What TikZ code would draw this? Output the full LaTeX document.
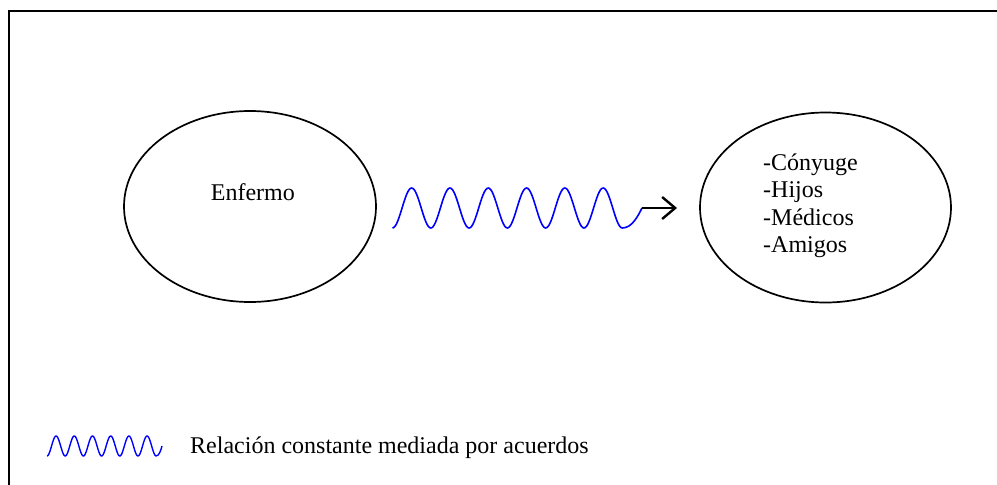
\documentclass[tikz,border=0pt]{standalone}
\usepackage{fontspec}
\setmainfont{Liberation Serif}
\usetikzlibrary{shapes.geometric,arrows.meta}
\begin{document}
\begin{tikzpicture}[x=1pt,y=-1pt,
  frame/.style={line width=2pt,draw=black},
  oval/.style={ellipse,draw=black,line width=1.7pt,inner sep=0pt},
  lbl/.style={font=\fontsize{24}{27}\selectfont,inner sep=0pt,anchor=base west},
  wave/.style={draw=blue,line width=1.6pt,line join=round},
  arr/.style={draw=black,line width=2.4pt,-{Straight Barb[length=13pt,width=22pt]}}]
\useasboundingbox (0,0) rectangle (997,485);
\fill[white] (0,0) rectangle (997,485);
% frame (top and left edges visible)
\coordinate (fr) at (1000,11);
\coordinate (fc) at (9,11);
\coordinate (fb) at (9,490);
\draw[frame] (fr) -- (fc) -- (fb);
% ellipses
\node[oval,minimum width=252pt,minimum height=191pt] (enf) at (250,206.5) {};
\node[oval,minimum width=251pt,minimum height=190pt] (red) at (825.5,207.5) {};
\node[lbl] (tenf) at (210.7,200) {Enfermo};
\node[lbl] (t1) at (763,170) {-Cónyuge};
\node[lbl] (t2) at (763,197.5) {-Hijos};
\node[lbl] (t3) at (763,225) {-Médicos};
\node[lbl] (t4) at (763,252.5) {-Amigos};
% wave connector
\coordinate (ws) at (392.5,228);
\coordinate (we) at (642,208);
\coordinate (at) at (677,208);
\draw[wave] plot[domain=0:6,samples=181,variable=\t] ({392.5+38.3*\t},{208+20*cos(360*\t)})
  .. controls (632,228) and (638,216) .. (we);
\draw[arr] (we) -- (at);
% legend
\coordinate (ls) at (47,456);
\coordinate (le) at (162,446);
\draw[wave,line width=1.4pt] plot[domain=0:6,samples=181,variable=\t] ({47+18.2*\t},{446+10*cos(360*\t)})
  .. controls (159,456) and (161,450) .. (le);
\node[lbl] (leg) at (190,453) {Relación constante mediada por acuerdos};
\end{tikzpicture}
\end{document}
